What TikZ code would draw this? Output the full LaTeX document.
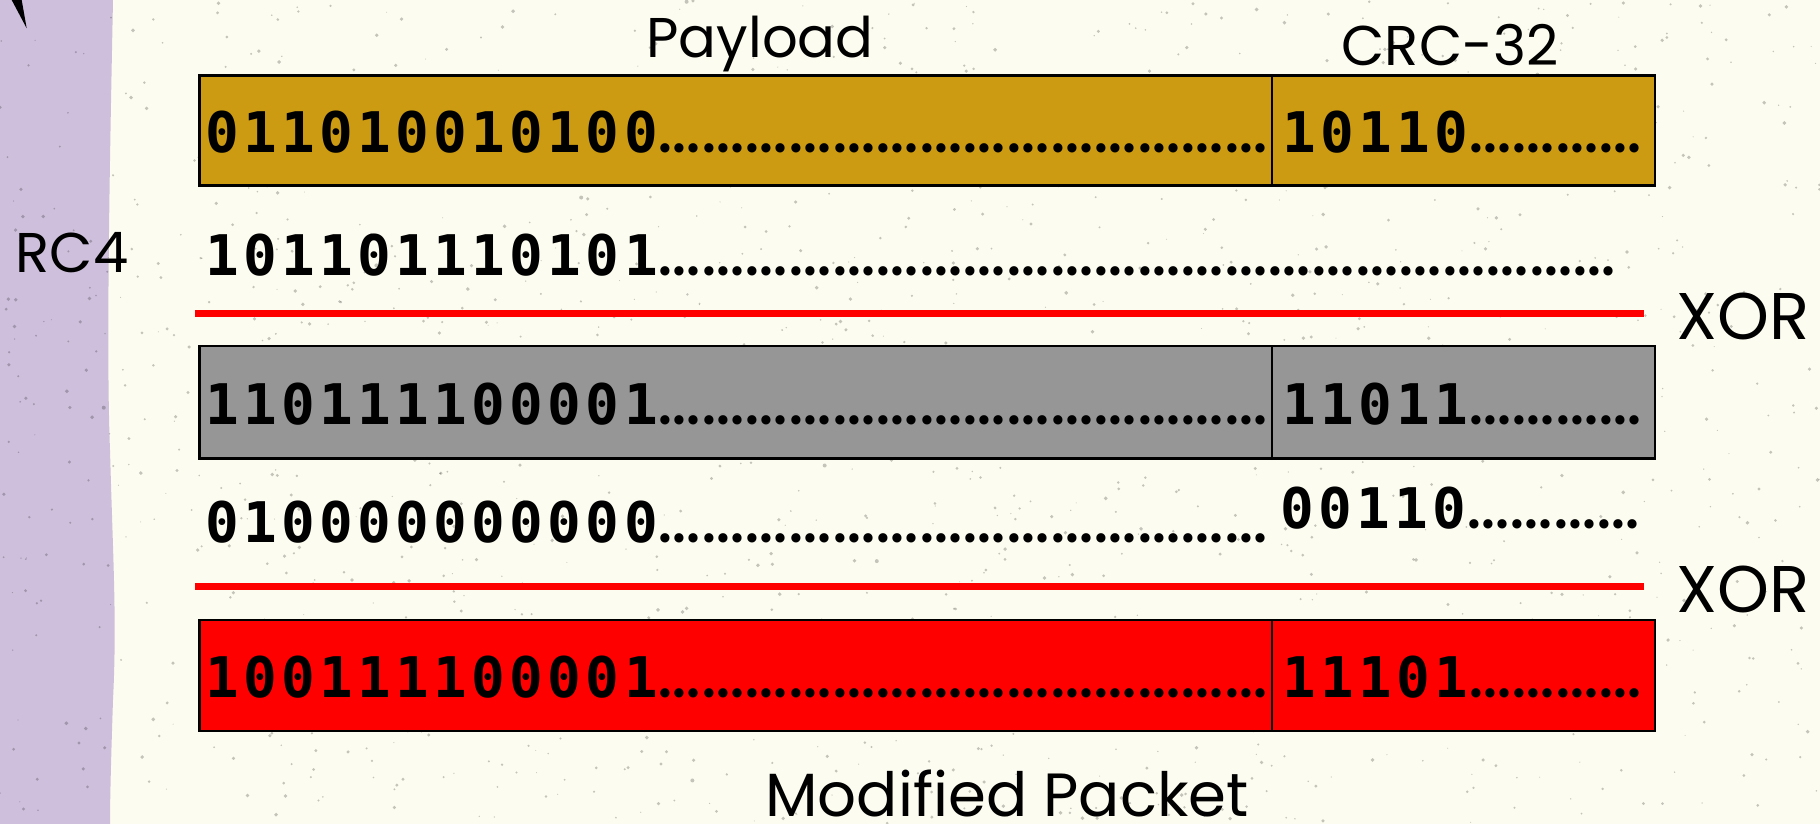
\documentclass[tikz,border=0pt]{standalone}
\usepackage{fontspec}
\setmainfont{Poppins}
\newfontfamily\bitfont[LetterSpace=7.8]{DejaVu Sans Mono Bold}
\newfontfamily\dotfont{Poppins}
\definecolor{bg}{RGB}{253,252,240}
\definecolor{lav}{RGB}{206,192,220}
\definecolor{gold}{RGB}{205,155,18}
\definecolor{grayfill}{RGB}{150,150,150}
\definecolor{xred}{RGB}{255,0,0}
\newcommand\dts[1]{{\dotfont\fontsize{75}{75}\selectfont\foreach \k in {1,...,#1}{…}}}
\tikzset{
  bits/.style={inner sep=0pt, anchor=base west, font=\bitfont\fontsize{56}{60}\selectfont},
  lbl/.style={inner sep=0pt, anchor=base, font=\fontsize{56}{60}\selectfont},
  pbox/.style={draw=black, line width=2.5pt},
  xorline/.style={draw=xred, line width=7pt},
}
\begin{document}
\begin{tikzpicture}[x=1pt,y=-1pt]
\useasboundingbox (0,0) rectangle (1820,824);
\fill[bg] (0,0) rectangle (1820,824);
\fill[lav] (0,0) -- (113,0) .. controls (110,150) and (106,350) .. (110,450)
  .. controls (113,560) and (117,620) .. (113,700) .. controls (111,760) and (110,800) .. (110,824) -- (0,824) -- cycle;
\pgfmathsetseed{7}
\foreach \i in {1,...,1500}{
  \pgfmathsetmacro\px{rnd*1820}
  \pgfmathsetmacro\py{rnd*824}
  \pgfmathsetmacro\pr{0.5+rnd*1.5}
  \fill[black, opacity=0.22] (\px,\py) circle[radius=\pr pt];
}
\fill[black] (11.7,0) -- (21.7,0) -- (26.7,28.3) -- cycle;
% boxes
\draw[pbox, fill=gold] (199.6,75.4) rectangle (1655,185.7);
\draw[line width=2pt] (1272,75.4) -- (1272,185.7);
\draw[pbox, fill=grayfill] (199.6,346) rectangle (1655,458.5);
\draw[line width=2pt] (1272,346) -- (1272,458.5);
\draw[pbox, fill=xred] (199.6,620) rectangle (1655,731);
\draw[line width=2pt] (1272,620) -- (1272,731);
% xor lines
\coordinate (l1a) at (195,313.4); \coordinate (l1b) at (1644,313.4);
\coordinate (l2a) at (195,586); \coordinate (l2b) at (1644,586);
\draw[xorline] (l1a) -- (l1b);
\draw[xorline] (l2a) -- (l2b);
% labels
\node[lbl] (payload) at (760,58) {Payload};
\node[lbl] (crc) at (1450,66) {CRC-32};
\node[lbl] (rc4) at (72,272) {RC4};
\node[lbl, font=\fontsize{66}{70}\selectfont] (xor1) at (1743,339) {XOR};
\node[lbl, font=\fontsize{66}{70}\selectfont] (xor2) at (1743,612) {XOR};
\node[lbl, font=\fontsize{61}{64}\selectfont] (mod) at (1007,816) {Modified Packet};
% bit rows
\node[bits] (r1p) at (205,153) {011010010100\dts{14}};
\node[bits] (r1c) at (1282,153) {10110\dts{4}};
\node[bits] (r2) at (205,275) {101101110101\dts{22}};
\node[bits] (r3p) at (205,424) {110111100001\dts{14}};
\node[bits] (r3c) at (1282,424) {11011\dts{4}};
\node[bits] (r4p) at (205,542) {010000000000\dts{14}};
\node[bits] (r4c) at (1280,528) {00110\dts{4}};
\node[bits] (r5p) at (205,697) {100111100001\dts{14}};
\node[bits] (r5c) at (1282,697) {11101\dts{4}};
\end{tikzpicture}
\end{document}
